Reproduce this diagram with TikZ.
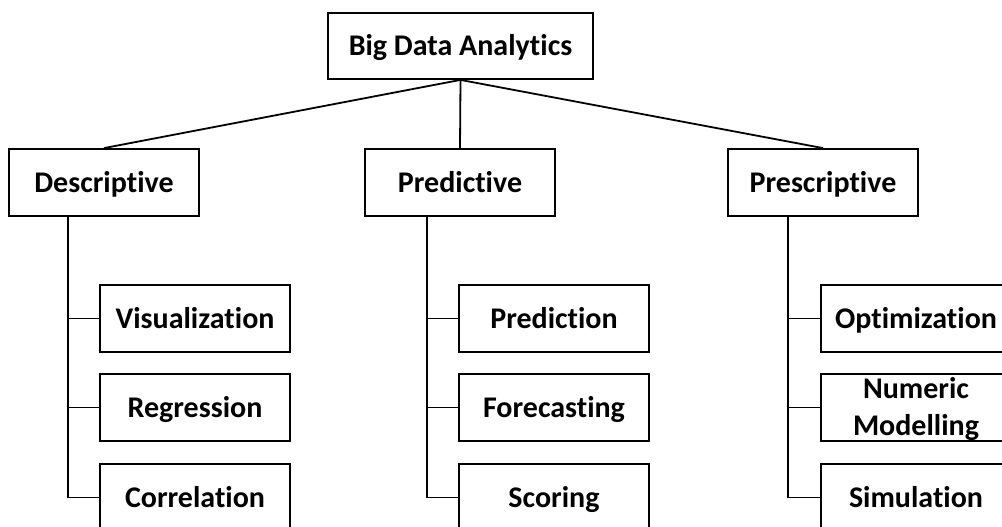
\documentclass[tikz,border=0pt]{standalone}
\usepackage{fontspec}
\setmainfont{Carlito}[Ligatures=NoCommon]

\tikzset{
  box/.style={
    draw,
    line width=1.8pt,
    minimum width=190pt,
    minimum height=67pt,
    inner sep=0pt,
    align=center,
    text height=19.3pt,
    text depth=0pt,
    font=\fontsize{30}{37}\selectfont\bfseries
  }
}

\begin{document}
\begin{tikzpicture}[x=1pt, y=-1pt, line width=1.8pt]
  \useasboundingbox (0,0) rectangle (1002,527);
  \clip (0,0) rectangle (1002,527);

  \node[box, minimum width=265pt, minimum height=66pt] (bda) at (460.5,46) {Big Data Analytics};

  \node[box] (desc) at (104,182.5) {Descriptive};
  \node[box] (pred) at (460,182.5) {Predictive};
  \node[box] (presc) at (823,182.5) {Prescriptive};
  \draw (bda.south) -- (desc.north);
  \draw (bda.south) -- (pred.north);
  \draw (bda.south) -- (presc.north);

  \node[box] (vis) at (195,318.5) {Visualization};
  \node[box] (regr) at (195,407.5) {Regression};
  \node[box] (corr) at (195,497.5) {Correlation};
  \coordinate (dtrunk) at (68,497.5);
  \draw (desc.south -| dtrunk) -- (dtrunk) -- (corr.west);
  \draw (vis.west) -- (vis.west -| dtrunk);
  \draw (regr.west) -- (regr.west -| dtrunk);

  \node[box] (predn) at (554,318.5) {Prediction};
  \node[box] (fcast) at (554,407.5) {Forecasting};
  \node[box] (score) at (554,497.5) {Scoring};
  \coordinate (ptrunk) at (427,497.5);
  \draw (pred.south -| ptrunk) -- (ptrunk) -- (score.west);
  \draw (predn.west) -- (predn.west -| ptrunk);
  \draw (fcast.west) -- (fcast.west -| ptrunk);

  \node[box] (optim) at (916,318.5) {Optimization};
  \node[box, text height=56.3pt] (numod) at (916,407.5) {Numeric\\Modelling};
  \node[box] (simul) at (916,497.5) {Simulation};
  \coordinate (strunk) at (788,497.5);
  \draw (presc.south -| strunk) -- (strunk) -- (simul.west);
  \draw (optim.west) -- (optim.west -| strunk);
  \draw (numod.west) -- (numod.west -| strunk);
\end{tikzpicture}
\end{document}
